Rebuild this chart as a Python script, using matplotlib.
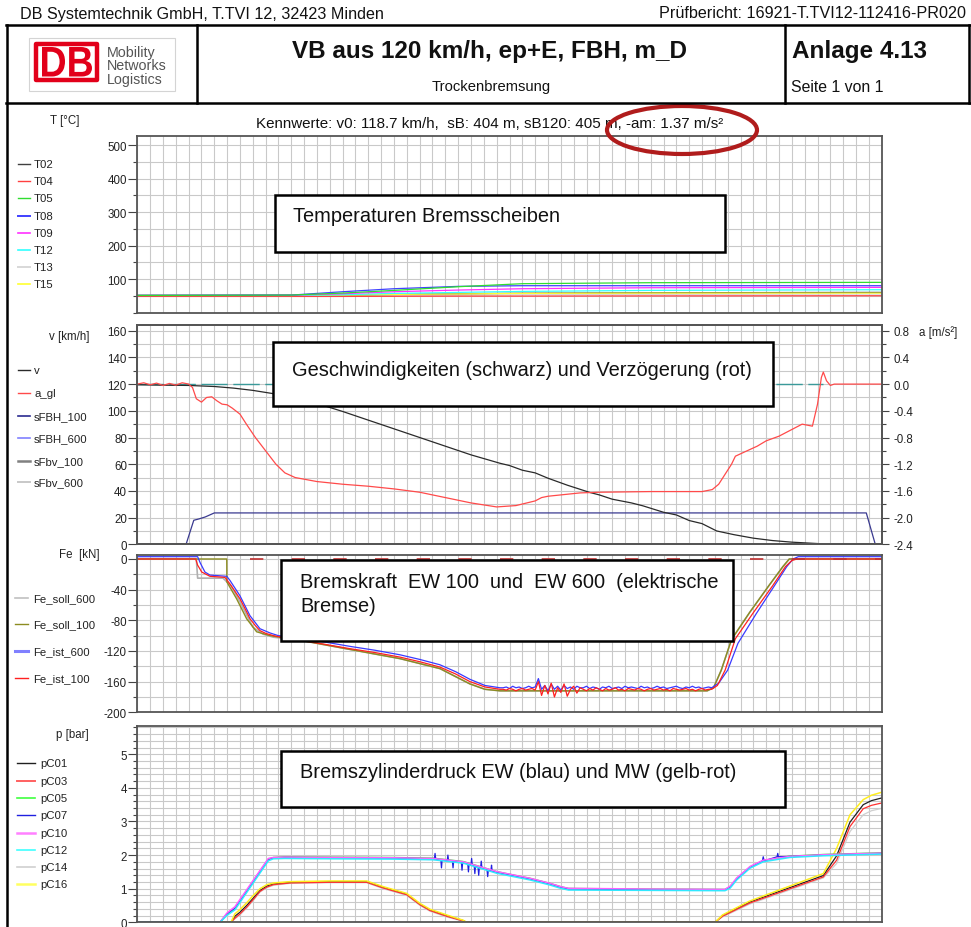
import numpy as np
import matplotlib
matplotlib.use('Agg')
import matplotlib.pyplot as plt
from matplotlib.patches import Rectangle, Ellipse, PathPatch
from matplotlib.lines import Line2D
from matplotlib.textpath import TextPath
from matplotlib.font_manager import FontProperties
from matplotlib.ticker import FixedLocator, FormatStrFormatter, NullFormatter
import matplotlib.transforms as mtransforms

plt.rcParams['font.family'] = ['Liberation Sans', 'DejaVu Sans']
plt.rcParams['axes.unicode_minus'] = False

# ---------------- data ----------------
# Panel 1: disc temperatures [°C]
t_T = [0, 12, 16, 20, 25, 30, 40, 58]
T02 = [51, 51, 52, 54, 56, 57.5, 59, 60]
T04 = [48, 48, 48, 48.5, 49, 49, 49.5, 50]
T05 = [51, 52, 58, 66, 77, 86, 89, 90]
T08 = [51, 52, 62, 71, 78, 80, 80, 80]
T09 = [51, 51.5, 56, 62, 67, 71, 74, 75]
T12 = [51, 51, 53, 57, 60, 63, 66, 68]
T13 = [50, 50, 50, 51, 52, 53, 54, 55]
T15 = [51, 51, 52, 54, 55.5, 57, 58, 58]

# Panel 2: speed [km/h] and deceleration [m/s²]
t_v = [0, 2, 4, 6, 7.5, 9, 10.5, 12, 14, 16, 18, 20, 22, 24, 26, 28.26, 29, 30, 31,
       32, 33.5, 35.27, 36, 37, 38.5, 39.4, 41, 42, 43, 44, 45.14, 46.5, 48, 49.5,
       51, 52.65, 53.5, 54.3, 58]
v = [119.5, 119.2, 119, 118.2, 117, 115.3, 113, 110, 105.5, 99.5, 93, 86.5, 80, 73.5,
     67, 60.7, 59, 55.5, 53.5, 49.5, 44.3, 38.8, 37, 33.8, 31, 28.8, 24, 22, 17.8, 15.5,
     10, 7.2, 4.6, 2.8, 1.6, 0.75, 0.3, 0, 0]
t_a = [0, 0.5, 1.0, 1.5, 2.0, 2.5, 3.0, 3.5, 4.0, 4.3, 4.6, 5.0, 5.4, 5.8, 6.2, 6.6,
       7.0, 7.4, 8.0, 8.5, 9.2, 10.0, 10.8, 11.5, 12.3, 14, 16, 18, 20, 22, 24, 26,
       28, 29.5, 31, 31.5, 32, 33, 34.5, 36, 40, 44, 44.8, 45.3, 46.3, 46.6, 47.5,
       48.3, 49, 50, 51, 51.8, 52.6, 53.0, 53.3, 53.45, 53.7, 54.0, 54.3, 58]
a_gl = [0, 0.02, -0.01, 0.015, -0.02, 0.01, -0.015, 0.02, 0, -0.05, -0.22, -0.27,
        -0.2, -0.19, -0.25, -0.3, -0.31, -0.36, -0.45, -0.6, -0.8, -1.0, -1.2, -1.33,
        -1.4, -1.46, -1.5, -1.53, -1.57, -1.62, -1.7, -1.78, -1.84, -1.82, -1.75, -1.7,
        -1.68, -1.66, -1.63, -1.62, -1.61, -1.61, -1.58, -1.5, -1.2, -1.08, -1.0,
        -0.93, -0.85, -0.78, -0.68, -0.6, -0.63, -0.3, 0.1, 0.18, 0.05, -0.02, 0.0, 0.0]
t_sfbh = [0, 3.8, 4.4, 4.8, 5.3, 6.0, 56.8, 57.5]
sFBH_100 = [0, 0, 18, 19, 20.5, 23.5, 23.5, 0]
t_vref = [0, 53.4]
v_ref = [120, 120]

# Panel 3: electric brake force [kN]
t_noise = np.arange(28.5, 44.51, 0.25)
t_r_pre = [0, 4.55, 4.7, 5.02, 5.66, 6.0, 6.83, 7.22, 7.6, 8.0, 8.4, 8.78, 9.2, 9.56,
           10.0, 10.6, 11.5, 12.68, 14.5, 16.57, 18.5, 20.47, 22.0, 23.58, 24.8, 25.92,
           27.09, 28.26]
Fe_r_pre = [0, 0, -8, -17, -22.6, -23, -24, -32.6, -42, -52, -65, -78, -87, -93.5,
            -97, -100, -103, -106, -111, -117, -122, -128, -134, -141, -150, -160,
            -167, -170]
Fe_r_noise = [-170, -171, -169, -170, -172, -170, -169, -171, -170, -169, -171,
              -160, -178, -165, -176, -162, -180, -168, -174, -163, -179, -170, -166, -175, -168,
              -170, -172, -169, -171, -168, -170, -172, -169, -171, -170, -168, -171, -170,
              -172, -169, -170, -171, -169, -170, -172, -170, -169, -171, -170, -169, -171,
              -170, -172, -169, -170, -171, -170, -169, -171, -170, -172, -170, -169, -171, -170]
t_r_post = [44.75, 45.2, 45.8, 46.6, 48.0, 49.5, 50.5, 51.0, 51.4, 58]
Fe_r_post = [-170, -165, -145, -104, -70, -35, -10, -2, 0, 0]

t_b_pre = [0, 4.7, 4.9, 5.27, 5.66, 6.97, 7.22, 8.0, 8.78, 9.56, 10.34, 10.99, 12.68,
           14.5, 16.57, 18.5, 20.47, 22.0, 23.58, 24.8, 25.92, 27.09, 28.26]
Fe_b_pre = [3, 3, -5, -17, -21, -22.6, -28, -48, -74, -91, -96.5, -100, -103, -108,
            -114, -119, -125, -131, -138, -147, -157, -165, -168]
Fe_b_noise = [-168, -167, -169, -166, -168, -167, -169, -168, -166, -168, -167,
              -156, -170, -165, -172, -163, -170, -166, -171, -165, -169, -167, -170, -166, -168,
              -168, -166, -169, -167, -168, -170, -167, -168, -166, -169, -168, -167, -169,
              -166, -168, -167, -168, -169, -166, -168, -167, -169, -168, -166, -168, -167,
              -169, -168, -167, -166, -168, -169, -167, -168, -166, -168, -167, -169, -168, -167]
t_b_post = [44.75, 45.3, 46.0, 46.8, 48.2, 49.6, 50.6, 51.1, 51.5, 58]
Fe_b_post = [-168, -162, -145, -110, -72, -36, -10, 0, 3, 3]

t_soll600 = [0, 4.6, 4.7, 6.68, 7.3, 8.0, 9.01, 9.79, 10.6, 12.68, 16.57, 20.47, 23.58,
             25.92, 27.09, 28.26, 44.4, 44.9, 45.5, 46.3, 47.7, 49.2, 50.3, 50.8, 58]
Fe_soll_600 = [0, 0, -25, -25, -35, -56, -89, -98, -102, -106, -118, -130, -143, -163,
               -170, -172, -172, -168, -145, -105, -70, -35, -10, 0, 0]
t_soll100 = [0, 6.97, 6.98, 7.74, 8.52, 9.30, 10.34, 12.68, 16.57, 20.47, 23.58, 25.92,
             27.09, 28.26, 44.4, 44.9, 45.5, 46.3, 47.7, 49.2, 50.3, 50.8, 58]
Fe_soll_100 = [0, 0, -30, -52, -78, -95, -100, -106, -118, -130, -143, -163, -170, -172,
               -172, -168, -145, -105, -70, -35, -10, 0, 0]
t_feref = [8.8, 58]
Fe_ref = [0, 0]

# Panel 4: brake cylinder pressure [bar]
t_ew = [0, 6.44, 6.97, 7.22, 7.6, 10.21, 10.6, 11.5, 15, 20, 23.06, 25.4, 28.0, 30.6,
        32.15, 33.0, 33.6, 40, 45.79, 46.2, 46.7, 47.74, 48.77, 50.85, 53.45, 58]
pC05 = [0, 0, 0.22, 0.3, 0.4, 1.86, 1.93, 1.95, 1.94, 1.93, 1.91, 1.81, 1.51, 1.31, 1.16,
        1.06, 1.01, 0.99, 0.98, 1.06, 1.30, 1.65, 1.84, 1.97, 2.02, 2.07]
pC10 = [0, 0, 0.27, 0.35, 0.46, 1.9, 1.93, 1.94, 1.93, 1.92, 1.90, 1.80, 1.51, 1.31, 1.16,
        1.06, 1.01, 0.99, 0.98, 1.08, 1.32, 1.66, 1.85, 1.96, 2.01, 2.06]
pC12 = [0, 0, 0.2, 0.27, 0.37, 1.83, 1.89, 1.90, 1.89, 1.88, 1.86, 1.76, 1.46, 1.26, 1.11,
        1.01, 0.96, 0.95, 0.94, 1.02, 1.26, 1.61, 1.80, 1.93, 1.98, 2.03]
t_p07 = [0, 6.44, 6.97, 7.22, 7.6, 10.21, 10.6, 11.5, 15, 20, 23.06,
         23.15, 23.2, 23.25, 23.65, 23.7, 23.75, 24.15, 24.2, 24.25, 24.55, 24.6, 24.65,
         25.25, 25.3, 25.35, 25.75, 25.8, 25.85, 26.0, 26.05, 26.1, 26.25, 26.3, 26.35,
         26.55, 26.6, 26.65, 26.75, 26.8, 26.85, 27.25, 27.3, 27.35, 27.55, 27.6, 27.65,
         28.0, 30.6, 32.15, 33.0, 33.6, 40, 45.79, 46.2, 46.7, 47.74,
         48.7, 48.77, 48.84, 49.85, 49.9, 49.95, 50.85, 53.45, 58]
pC07 = [0, 0, 0.25, 0.32, 0.42, 1.88, 1.92, 1.93, 1.92, 1.91, 1.89,
        1.88, 2.05, 1.88, 1.86, 1.62, 1.86, 1.84, 2.0, 1.84, 1.82, 1.62, 1.82,
        1.79, 1.55, 1.78, 1.74, 1.50, 1.73, 1.71, 1.90, 1.70, 1.68, 1.45, 1.67,
        1.64, 1.40, 1.63, 1.62, 1.82, 1.61, 1.56, 1.36, 1.55, 1.53, 1.70, 1.52,
        1.49, 1.29, 1.14, 1.04, 0.99, 0.97, 0.96, 1.05, 1.29, 1.64,
        1.82, 1.95, 1.83, 1.95, 2.05, 1.95, 1.96, 2.0, 2.05]
t_mw = [0, 7.3, 7.6, 8.0, 8.52, 9.04, 9.56, 10.1, 10.6, 11.9, 15, 17.87, 19.17, 20.99,
        22.03, 22.8, 24.1, 25.4, 25.66, 45.01, 45.6, 47.7, 53.45, 54.49, 55.53, 56.56,
        57.2, 58]
pC01 = [0, 0, 0.18, 0.3, 0.5, 0.72, 0.95, 1.08, 1.14, 1.19, 1.21, 1.21, 1.04, 0.84, 0.54,
        0.37, 0.2, 0.05, 0, 0, 0.2, 0.6, 1.39, 1.98, 2.98, 3.5, 3.62, 3.70]
pC03 = [0, 0, 0.12, 0.25, 0.45, 0.68, 0.92, 1.05, 1.12, 1.17, 1.19, 1.19, 1.02, 0.82,
        0.52, 0.35, 0.18, 0.04, 0, 0, 0.18, 0.57, 1.35, 1.85, 2.85, 3.38, 3.48, 3.55]
pC14 = [0, 0, 0.1, 0.22, 0.42, 0.65, 0.9, 1.03, 1.1, 1.16, 1.18, 1.18, 1.0, 0.8, 0.5,
        0.33, 0.16, 0.03, 0, 0, 0.16, 0.54, 1.32, 1.75, 2.7, 3.2, 3.32, 3.39]
pC16 = [0, 0, 0.25, 0.38, 0.58, 0.8, 1.0, 1.12, 1.17, 1.21, 1.23, 1.23, 1.06, 0.86, 0.56,
        0.39, 0.22, 0.06, 0, 0, 0.22, 0.63, 1.45, 2.2, 3.2, 3.65, 3.78, 3.87]

# ---------------- figure ----------------
W, H = 971, 928
fig = plt.figure(figsize=(W / 100, H / 100), dpi=100)


def fx(x):
    return x / W


def fy(y):
    return 1 - y / H


GRID = '#c9c9c9'
SPINE = '#555555'
TXT = '#222222'
LW = 0.9


def add_axes_px(x0, y0, x1, y1):
    return fig.add_axes([fx(x0), fy(y1), (x1 - x0) / W, (y1 - y0) / H])


def style(ax, ylim, major, minor, fmt=None):
    ax.set_xlim(0, 58)
    ax.set_ylim(*ylim)
    ax.set_xticks(np.arange(0, 59, 1))
    ax.tick_params(axis='x', length=0, labelbottom=False)
    ax.yaxis.set_major_locator(FixedLocator(major))
    ax.yaxis.set_minor_locator(FixedLocator(minor))
    if fmt:
        ax.yaxis.set_major_formatter(FormatStrFormatter(fmt))
    ax.tick_params(axis='y', which='major', length=6.5, width=0.8, color='#444444',
                   labelsize=8.3, labelcolor=TXT, pad=1.0)
    ax.tick_params(axis='y', which='minor', length=3, width=0.8, color='#444444')
    ax.grid(True, axis='x', color=GRID, lw=0.8)
    ax.grid(True, axis='y', which='both', color=GRID, lw=0.8)
    ax.set_axisbelow(True)
    for s in ax.spines.values():
        s.set_color(SPINE)
        s.set_linewidth(1.3)


# Panel 1
ax1 = add_axes_px(137.3, 137, 881.7, 313.5)
style(ax1, (0, 527), [100, 200, 300, 400, 500], [0, 50, 150, 250, 350, 450])
for vals, c in [(T13, '#d8d8d8'), (T04, '#ff4040'), (T02, '#404040'), (T15, '#ffff30'),
                (T12, '#30ffff'), (T09, '#ff30ff'), (T08, '#4040ff'), (T05, '#30dd30')]:
    ax1.plot(t_T, vals, color=c, lw=LW)

# Panel 2
ax2 = add_axes_px(137.3, 325.7, 881.7, 545.3)
style(ax2, (0, 164.5), list(range(0, 161, 20)), list(range(10, 161, 20)))
ax2.plot(t_vref, v_ref, color='#3a9a9a', lw=1.0, dashes=(19, 4))
ax2.plot(t_sfbh, sFBH_100, color='#3a3a90', lw=LW)
ax2.plot(t_v, v, color='#2a2a2a', lw=LW)
ax2r = ax2.twinx()
ax2r.set_xlim(0, 58)
ax2r.set_ylim(-2.4, 0.89)
ax2r.yaxis.set_major_locator(FixedLocator([-2.4, -2.0, -1.6, -1.2, -0.8, -0.4, 0.0, 0.4, 0.8]))
ax2r.yaxis.set_minor_locator(FixedLocator([-2.2, -1.8, -1.4, -1.0, -0.6, -0.2, 0.2, 0.6]))
ax2r.yaxis.set_major_formatter(FormatStrFormatter('%.1f'))
ax2r.tick_params(axis='y', which='major', length=5, width=0.8, color='#444444',
                 labelsize=8.3, labelcolor=TXT, pad=3.3)
ax2r.tick_params(axis='y', which='minor', length=3, width=0.8, color='#444444')
for s in ax2r.spines.values():
    s.set_color(SPINE)
    s.set_linewidth(1.3)
ax2r.plot(t_a, a_gl, color='#ff4a4a', lw=LW)

# Panel 3
ax3 = add_axes_px(137.3, 556, 881.7, 713.3)
style(ax3, (-200, 5.2), [0, -40, -80, -120, -160, -200], [-20, -60, -100, -140, -180])
ax3.plot(t_soll600, Fe_soll_600, color='#b0b0b0', lw=1.2)
ax3.plot(t_soll100, Fe_soll_100, color='#8c8c20', lw=1.0)
ax3.plot(t_b_pre + list(t_noise) + t_b_post, Fe_b_pre + Fe_b_noise + Fe_b_post,
         color='#3a3aff', lw=LW)
ax3.plot(t_r_pre + list(t_noise) + t_r_post, Fe_r_pre + Fe_r_noise + Fe_r_post,
         color='#ff2020', lw=LW)
ax3.plot(t_feref, Fe_ref, color='#c03030', lw=1.2, dashes=(8, 17))

# Panel 4
ax4 = add_axes_px(137.3, 726.7, 881.7, 923.3)
minor4 = [round(0.2 * i, 1) for i in range(0, 30) if i % 5 != 0]
style(ax4, (0, 5.85), [0, 1, 2, 3, 4, 5], minor4)
ax4.plot(t_mw, pC14, color='#cfcfcf', lw=LW)
ax4.plot(t_mw, pC01, color='#202020', lw=LW)
ax4.plot(t_mw, pC03, color='#ff3030', lw=LW)
ax4.plot(t_mw, pC16, color='#ffee20', lw=1.1)
ax4.plot(t_ew, pC05, color='#30e030', lw=LW)
ax4.plot(t_p07, pC07, color='#2020e0', lw=LW)
ax4.plot(t_ew, pC10, color='#ff60ff', lw=1.1)
ax4.plot(t_ew, pC12, color='#30e8ff', lw=1.1)

# ---------------- legends / labels ----------------
def legend(entries, x0, x1, xt, ys):
    for (label, color, lw), y in zip(entries, ys):
        fig.add_artist(Line2D([fx(x0), fx(x1)], [fy(y), fy(y)], color=color, lw=lw,
                              transform=fig.transFigure))
        fig.text(fx(xt), fy(y), label, fontsize=8.2, va='center', ha='left', color=TXT)


legend([('T02', '#404040', 1), ('T04', '#ff4040', 1), ('T05', '#30dd30', 1),
        ('T08', '#4040ff', 1.4), ('T09', '#ff30ff', 1.2), ('T12', '#30ffff', 1.2),
        ('T13', '#d8d8d8', 1.4), ('T15', '#ffff30', 1.2)],
       18, 30, 34, [165, 182.3, 199.3, 216.7, 233.7, 251, 268, 285])
legend([('v', '#2a2a2a', 1), ('a_gl', '#ff4a4a', 1), ('sFBH_100', '#2a2a90', 1.2),
        ('sFBH_600', '#8080ff', 1.2), ('sFbv_100', '#808080', 1.8),
        ('sFbv_600', '#c8c8c8', 1.4)],
       18, 30, 34, [371, 394, 416.7, 439, 461.7, 483.3])
legend([('Fe_soll_600', '#c0c0c0', 1.2), ('Fe_soll_100', '#8c8c20', 1.0),
        ('Fe_ist_600', '#8080ff', 2.2), ('Fe_ist_100', '#ff2020', 1.0)],
       15, 28, 33, [599, 625, 652.3, 679])
legend([('pC01', '#202020', 1), ('pC03', '#ff6060', 1.4), ('pC05', '#40ff40', 1.2),
        ('pC07', '#2020e0', 1.0), ('pC10', '#ff80ff', 1.8), ('pC12', '#40ffff', 1.2),
        ('pC14', '#d0d0d0', 1.2), ('pC16', '#ffff60', 1.8)],
       17, 35, 40.7, [764.3, 781.7, 799, 816, 833.7, 851, 868.3, 885])

fig.text(fx(64.5), fy(121), 'T [°C]', fontsize=8.3, ha='center', va='center', color=TXT)
fig.text(fx(69), fy(336.7), 'v [km/h]', fontsize=8.3, ha='center', va='center', color=TXT)
fig.text(fx(79), fy(555), 'Fe  [kN]', fontsize=8.3, ha='center', va='center', color=TXT)
fig.text(fx(72.7), fy(735), 'p [bar]', fontsize=8.3, ha='center', va='center', color=TXT)
fig.text(fx(919), fy(332.3), 'a [m/s²]', fontsize=8.3, ha='left', va='center', color=TXT)

fig.text(fx(256), fy(124), 'Kennwerte: v0: 118.7 km/h,  sB: 404 m, sB120: 405 m, -am: 1.37 m/s²',
         fontsize=10.9, ha='left', va='center', color='#111111')


# annotation boxes
def box(x0, y0, x1, y1, lines, tx, tys):
    fig.add_artist(Rectangle((fx(x0), fy(y1)), (x1 - x0) / W, (y1 - y0) / H,
                             transform=fig.transFigure, facecolor='white',
                             edgecolor='black', lw=1.8, zorder=5))
    for line, ty in zip(lines, tys):
        fig.text(fx(tx), fy(ty), line, fontsize=14.4, va='center', ha='left',
                 color='#111111', zorder=6)


box(275, 196, 725, 253, ['Temperaturen Bremsscheiben'], 293, [217])
box(273, 343, 773, 407, ['Geschwindigkeiten (schwarz) und Verzögerung (rot)'], 292, [370])
box(281, 560.5, 733, 641.5, ['Bremskraft  EW 100  und  EW 600  (elektrische', 'Bremse)'],
    300, [583, 606])
box(281, 752, 785, 808, ['Bremszylinderdruck EW (blau) und MW (gelb-rot)'], 300, [773])

# red ellipse
fig.add_artist(Ellipse((fx(682), fy(131)), 150 / W, 48 / H, transform=fig.transFigure,
                       fill=False, edgecolor='#b01c1c', lw=3, zorder=7))

# ---------------- header ----------------
def hline(y, x0, x1, lw=1.8):
    fig.add_artist(Line2D([fx(x0), fx(x1)], [fy(y), fy(y)], color='black', lw=lw,
                          transform=fig.transFigure, zorder=8))


def vline(x, y0, y1, lw=1.8):
    fig.add_artist(Line2D([fx(x), fx(x)], [fy(y0), fy(y1)], color='black', lw=lw,
                          transform=fig.transFigure, zorder=8))


hline(25.5, 6.3, 969.5)
hline(104, 6.3, 969.5)
vline(7, 25.5, 928)
vline(197, 25.5, 104)
vline(785, 25.5, 104)
vline(969, 25.5, 104)

fig.text(fx(20), fy(14), 'DB Systemtechnik GmbH, T.TVI 12, 32423 Minden', fontsize=11.6,
         ha='left', va='center', color='#111111')
fig.text(fx(966), fy(14), 'Prüfbericht: 16921-T.TVI12-112416-PR020', fontsize=11.6,
         ha='right', va='center', color='#111111')
fig.text(fx(489.5), fy(51.7), 'VB aus 120 km/h, ep+E, FBH, m_D', fontsize=17.5,
         fontweight='bold', ha='center', va='center', color='#111111')
fig.text(fx(490.7), fy(87), 'Trockenbremsung', fontsize=10.6, ha='center', va='center',
         color='#111111')
fig.text(fx(792), fy(51.7), 'Anlage 4.13', fontsize=17.5, fontweight='bold', ha='left',
         va='center', color='#111111')
fig.text(fx(791), fy(87), 'Seite 1 von 1', fontsize=11.4, ha='left', va='center',
         color='#111111')

# logo
fig.add_artist(Rectangle((fx(29), fy(92)), 146 / W, 53 / H, transform=fig.transFigure,
                         fill=False, edgecolor='#d4d4d4', lw=0.8, zorder=5))
DBRED = '#e2001a'
fig.add_artist(Rectangle((fx(36), fy(80.5)), 61 / W, 35.5 / H, transform=fig.transFigure,
                         facecolor='white', edgecolor=DBRED, lw=3.2, joinstyle='round',
                         zorder=6))
fp = FontProperties(family='Liberation Sans', weight='bold')
tp = TextPath((0, 0), 'DB', size=100, prop=fp)
ext = tp.get_extents()
sx = (92 - 42) / ext.width
sy = (77.5 - 48) / ext.height
tr = (mtransforms.Affine2D().translate(-ext.x0, -ext.y0).scale(sx / W, sy / H)
      .translate(fx(42), fy(77.5)) + fig.transFigure)
fig.add_artist(PathPatch(tp, transform=tr, facecolor=DBRED, edgecolor='none', zorder=7))
for s, y in [('Mobility', 52.5), ('Networks', 66), ('Logistics', 80)]:
    fig.text(fx(107), fy(y), s, fontsize=10.3, ha='left', va='center', color='#555555')

fig.savefig('out.png', dpi=100)
